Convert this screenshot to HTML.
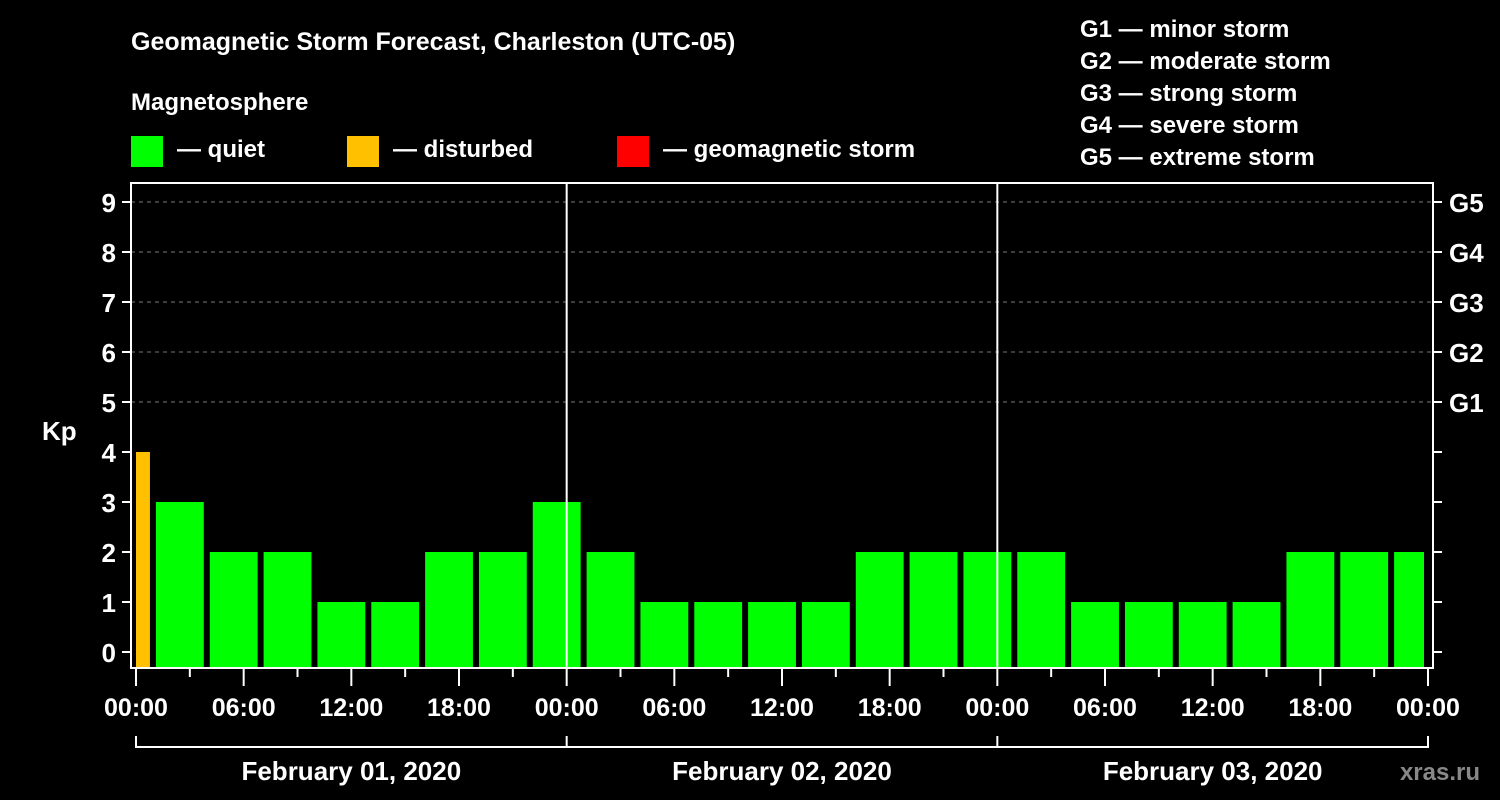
<!DOCTYPE html>
<html><head><meta charset="utf-8"><style>
html,body{margin:0;background:#000;}
svg{display:block;font-family:"Liberation Sans",sans-serif;font-weight:bold;}
</style></head><body>
<svg id="chart" width="1500" height="800" xmlns="http://www.w3.org/2000/svg">
<rect width="1500" height="800" fill="#000"/>
<text x="131" y="50" fill="#fff" font-size="25">Geomagnetic Storm Forecast, Charleston (UTC-05)</text>
<text x="131" y="110" fill="#fff" font-size="24">Magnetosphere</text>
<g><rect x="131" y="136" width="32" height="31" fill="#00ff00"/><text x="177" y="157" fill="#fff" font-size="24">— quiet</text></g>
<g><rect x="347" y="136" width="32" height="31" fill="#ffc000"/><text x="393" y="157" fill="#fff" font-size="24">— disturbed</text></g>
<g><rect x="617" y="136" width="32" height="31" fill="#ff0000"/><text x="663" y="157" fill="#fff" font-size="24">— geomagnetic storm</text></g>
<g fill="#fff" font-size="24">
<text x="1080" y="37">G1 — minor storm</text>
<text x="1080" y="69">G2 — moderate storm</text>
<text x="1080" y="101">G3 — strong storm</text>
<text x="1080" y="133">G4 — severe storm</text>
<text x="1080" y="165">G5 — extreme storm</text>
</g>
<text x="42" y="440" fill="#fff" font-size="26">Kp</text>
<text x="1480" y="780" fill="#888" font-size="24" text-anchor="end">xras.ru</text>
<g id="plot"></g>
</svg>
<script>
const barStartHours = [0,1,4,7,10,13,16,19,22,25,28,31,34,37,40,43,46,49,52,55,58,61,64,67,70];
const barEndHours   = [1,4,7,10,13,16,19,22,25,28,31,34,37,40,43,46,49,52,55,58,61,64,67,70,72];
const kpValues      = [4,3,2,2,1,1,2,2,3,2,1,1,1,1,2,2,2,2,1,1,1,1,2,2,2];
const yTicks = [0,1,2,3,4,5,6,7,8,9];
const gLabels = ["G1","G2","G3","G4","G5"];
const gLevels = [5,6,7,8,9];
const xTickLabels = ["00:00","06:00","12:00","18:00","00:00","06:00","12:00","18:00","00:00","06:00","12:00","18:00","00:00"];
const dayLabels = ["February 01, 2020","February 02, 2020","February 03, 2020"];

const L=131,R=1433,T=183,B=668;
const x = h => 136 + h*(1428-136)/72;
const y = v => 652 - v*50;
const NS="http://www.w3.org/2000/svg";
const g=document.getElementById('plot');
function mk(tag,attrs,parent){const e=document.createElementNS(NS,tag);for(const k in attrs)e.setAttribute(k,attrs[k]);(parent||g).appendChild(e);return e;}

gLevels.forEach((lv,i)=>{
  const ln=mk('line',{x1:L,x2:R,y1:y(lv),y2:y(lv),stroke:'#777','stroke-dasharray':'4,4','stroke-width':1});
  
  
  const t=mk('text',{x:1449,y:y(lv)+10,fill:'#fff','font-size':26});
  t.textContent=gLabels[i];
  
  
});
barStartHours.forEach((s,i)=>{
  const v=kpValues[i];
  const col=v>=5?'#ff0000':(v>=4?'#ffc000':'#00ff00');
  const x0=x(s)+(i===0?0:2);
  const x1=Math.min(x(barEndHours[i])-4,1428);
  const r=mk('rect',{x:x0,y:y(v),width:Math.max(0,x1-x0),height:B-y(v),fill:col});
  
  
});
[24,48].forEach(h=>{
  const l=mk('line',{x1:x(h),x2:x(h),y1:T,y2:B,stroke:'#fff','stroke-width':2});
  
  
});
const fr=mk('rect',{x:L,y:T,width:R-L,height:B-T,fill:'none',stroke:'#fff','stroke-width':2});


yTicks.forEach(v=>{
  mk('line',{x1:122,x2:L,y1:y(v),y2:y(v),stroke:'#fff','stroke-width':2});
  mk('line',{x1:R,x2:1442,y1:y(v),y2:y(v),stroke:'#fff','stroke-width':2});
  const t=mk('text',{x:116,y:y(v)+10,fill:'#fff','font-size':26,'text-anchor':'end'});
  t.textContent=v;
  
  
});
for(let h=0;h<=72;h+=3){
  const major=h%6===0;
  mk('line',{x1:x(h),x2:x(h),y1:B,y2:major?686:677,stroke:'#fff','stroke-width':2});
}
xTickLabels.forEach((lab,i)=>{
  const t=mk('text',{x:x(i*6),y:716,fill:'#fff','font-size':25,'text-anchor':'middle'});
  t.textContent=lab;
  
  
});
const br=mk('path',{d:`M${x(0)} 736 V747 H${x(72)} V736`,fill:'none',stroke:'#fff','stroke-width':2});


[24,48].forEach(h=>mk('line',{x1:x(h),x2:x(h),y1:736,y2:747,stroke:'#fff','stroke-width':2}));
dayLabels.forEach((d,i)=>{
  const t=mk('text',{x:x(i*24+12),y:780,fill:'#fff','font-size':26,'text-anchor':'middle'});
  t.textContent=d;
  
  
});
</script>
</body></html>
